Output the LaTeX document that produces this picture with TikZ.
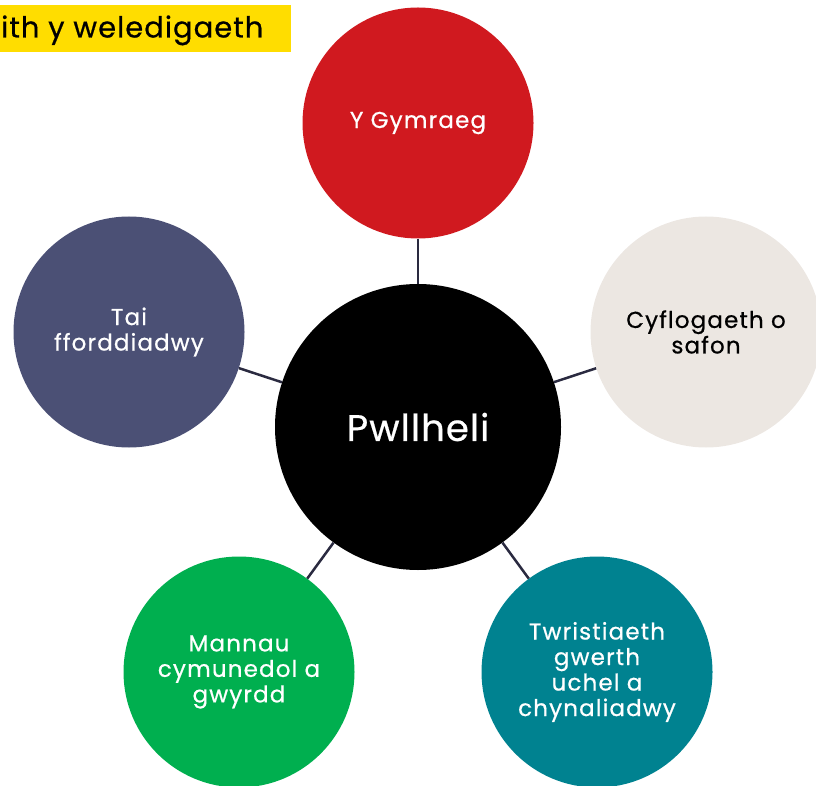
\documentclass[tikz,border=0pt]{standalone}
\usepackage{fontspec}
\setmainfont{Poppins}
\newfontfamily\satfont[LetterSpace=5,FakeBold=0.6]{Poppins}
\newfontfamily\cenfont[LetterSpace=3,FakeBold=0.6]{Poppins}
\newfontfamily\titfont[LetterSpace=3.5,FakeBold=0.6]{Poppins}
\definecolor{cred}{HTML}{D0191F}
\definecolor{cbeige}{HTML}{ECE7E2}
\definecolor{cpurple}{HTML}{4B5075}
\definecolor{cgreen}{HTML}{00AF4F}
\definecolor{cteal}{HTML}{008290}
\definecolor{cyellow}{HTML}{FFDD00}
\definecolor{cline}{HTML}{2A2A40}
\begin{document}
\begin{tikzpicture}[x=1pt,y=-1pt,
  sat/.style={circle,minimum size=231pt,inner sep=0pt,align=center,font=\satfont\fontsize{23}{25.5}\selectfont},
  conn/.style={draw=cline,line width=2.5pt}]
\useasboundingbox (0,0) rectangle (816,786);
\begin{scope}
\clip (0,0) rectangle (816,786);
\fill[cyellow] (0,5) rectangle (291,52);
\node[anchor=base west,inner sep=0pt,font=\titfont\fontsize{29}{34}\selectfont] (title) at (1,37.5) {ith y weledigaeth};
\node[sat,fill=cred,text=white] (top) at (418,123) {Y Gymraeg};
\node[sat,fill=cbeige,text=black] (right) at (706,332) {Cyflogaeth o\\safon};
\node[sat,fill=cteal,text=white] (br) at (597,672) {Twristiaeth\\gwerth\\uchel a\\chynaliadwy};
\node[sat,fill=cgreen,text=white] (bl) at (239,672) {Mannau\\cymunedol a\\gwyrdd};
\node[sat,fill=cpurple,text=white] (left) at (129,332) {Tai\\fforddiadwy};
\node[circle,minimum size=286pt,inner sep=0pt,fill=black,text=white,font=\cenfont\fontsize{37}{44}\selectfont] (c) at (418,427) {Pwllheli};
\draw[conn] (top) -- (c);
\draw[conn] (right) -- (c);
\draw[conn] (br) -- (c);
\draw[conn] (bl) -- (c);
\draw[conn] (left) -- (c);
\end{scope}
\end{tikzpicture}
\end{document}
